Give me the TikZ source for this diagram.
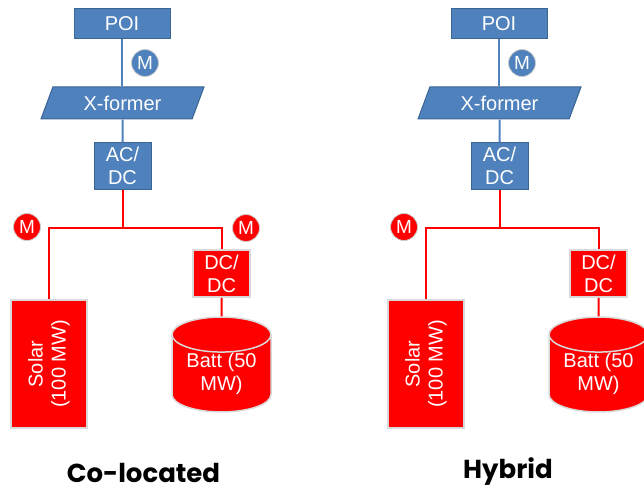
\documentclass[tikz,border=0pt]{standalone}
\usepackage{fontspec}
\setmainfont{Liberation Sans}
\newfontfamily\capfont{Poppins}
\usetikzlibrary{shapes.geometric}

\definecolor{acblue}{HTML}{4F81BD}
\definecolor{acedge}{HTML}{3A6594}
\definecolor{dcred}{HTML}{FF0000}

\tikzset{
  lbl/.style={font=\fontsize{20}{23}\selectfont},
  acbox/.style={lbl, draw=acedge, line width=1pt, fill=acblue, text=white, inner sep=0pt, align=center},
  dcbox/.style={lbl, draw=black!15, line width=1.5pt, fill=dcred, text=white, inner sep=0pt, align=center},
  acline/.style={draw=acblue, line width=2pt},
  dcline/.style={draw=dcred, line width=2pt},
  meter/.style={circle, draw=white!80!black, line width=0.8pt, minimum size=27pt, inner sep=0pt, text=white, font=\fontsize{19}{19}\selectfont},
  caption/.style={inner sep=0pt, font=\capfont\bfseries\fontsize{26}{26}\selectfont},
  xformer/.style={acbox, trapezium, trapezium left angle=51, trapezium right angle=129, trapezium stretches body, minimum width=163pt, minimum height=32pt},
  battery/.style={dcbox, cylinder, shape border rotate=90, aspect=0.5, minimum width=99pt, minimum height=91pt, anchor=shape center},
}

\begin{document}
\begin{tikzpicture}[x=1pt, y=-1pt]
  \useasboundingbox (0,0) rectangle (644,489);
  \clip (0,0) rectangle (644,489);

  % co-located
  \begin{scope}
    \node[acbox, minimum width=96pt, minimum height=30pt] (poi1) at (122,24) {POI};
    \node[xformer] (xf1) at (122.5,103) {X-former};
    \node[acbox, minimum width=57pt, minimum height=46pt] (acdc1) at (122.5,166) {AC/\\DC};
    \node[dcbox, rotate=90, minimum width=128pt, minimum height=76pt] (solar1) at (49,364) {Solar\\(100 MW)};
    \node[dcbox, minimum width=57pt, minimum height=47pt] (dcdc1) at (221.5,273.5) {DC/\\DC};
    \node[battery] (batt1) at (221.5,364.5) {Batt (50\\MW)};
    \coordinate (bus1) at (122.5,228);

    \draw[acline] (poi1.south) -- (poi1.south |- xf1.north);
    \draw[acline] (xf1.south) -- (acdc1.north);
    \draw[dcline] (acdc1.south) -- (bus1);
    \draw[dcline] (solar1.east) |- (bus1) -| (dcdc1.north);
    \draw[dcline] (dcdc1.south) -- (batt1.north);

    \node[meter, fill=acblue] (mpoi1) at (145,63) {M};
    \node[meter, fill=dcred] (msolar1) at (27,227) {M};
    \node[meter, fill=dcred] (mbatt1) at (246,228) {M};

    \node[caption] (cap1) at (143.5,473) {Co-located};
  \end{scope}

  % hybrid
  \begin{scope}[xshift=377pt]
    \node[acbox, minimum width=96pt, minimum height=30pt] (poi2) at (122,24) {POI};
    \node[xformer] (xf2) at (122.5,103) {X-former};
    \node[acbox, minimum width=57pt, minimum height=46pt] (acdc2) at (122.5,166) {AC/\\DC};
    \node[dcbox, rotate=90, minimum width=128pt, minimum height=76pt] (solar2) at (49,364) {Solar\\(100 MW)};
    \node[dcbox, minimum width=57pt, minimum height=47pt] (dcdc2) at (221.5,273.5) {DC/\\DC};
    \node[battery] (batt2) at (221.5,364.5) {Batt (50\\MW)};
    \coordinate (bus2) at (122.5,228);

    \draw[acline] (poi2.south) -- (poi2.south |- xf2.north);
    \draw[acline] (xf2.south) -- (acdc2.north);
    \draw[dcline] (acdc2.south) -- (bus2);
    \draw[dcline] (solar2.east) |- (bus2) -| (dcdc2.north);
    \draw[dcline] (dcdc2.south) -- (batt2.north);

    \node[meter, fill=acblue] (mpoi2) at (145,63) {M};
    \node[meter, fill=dcred] (msolar2) at (27,227) {M};

    \node[caption] (cap2) at (131,472) {Hybrid};
  \end{scope}
\end{tikzpicture}
\end{document}
